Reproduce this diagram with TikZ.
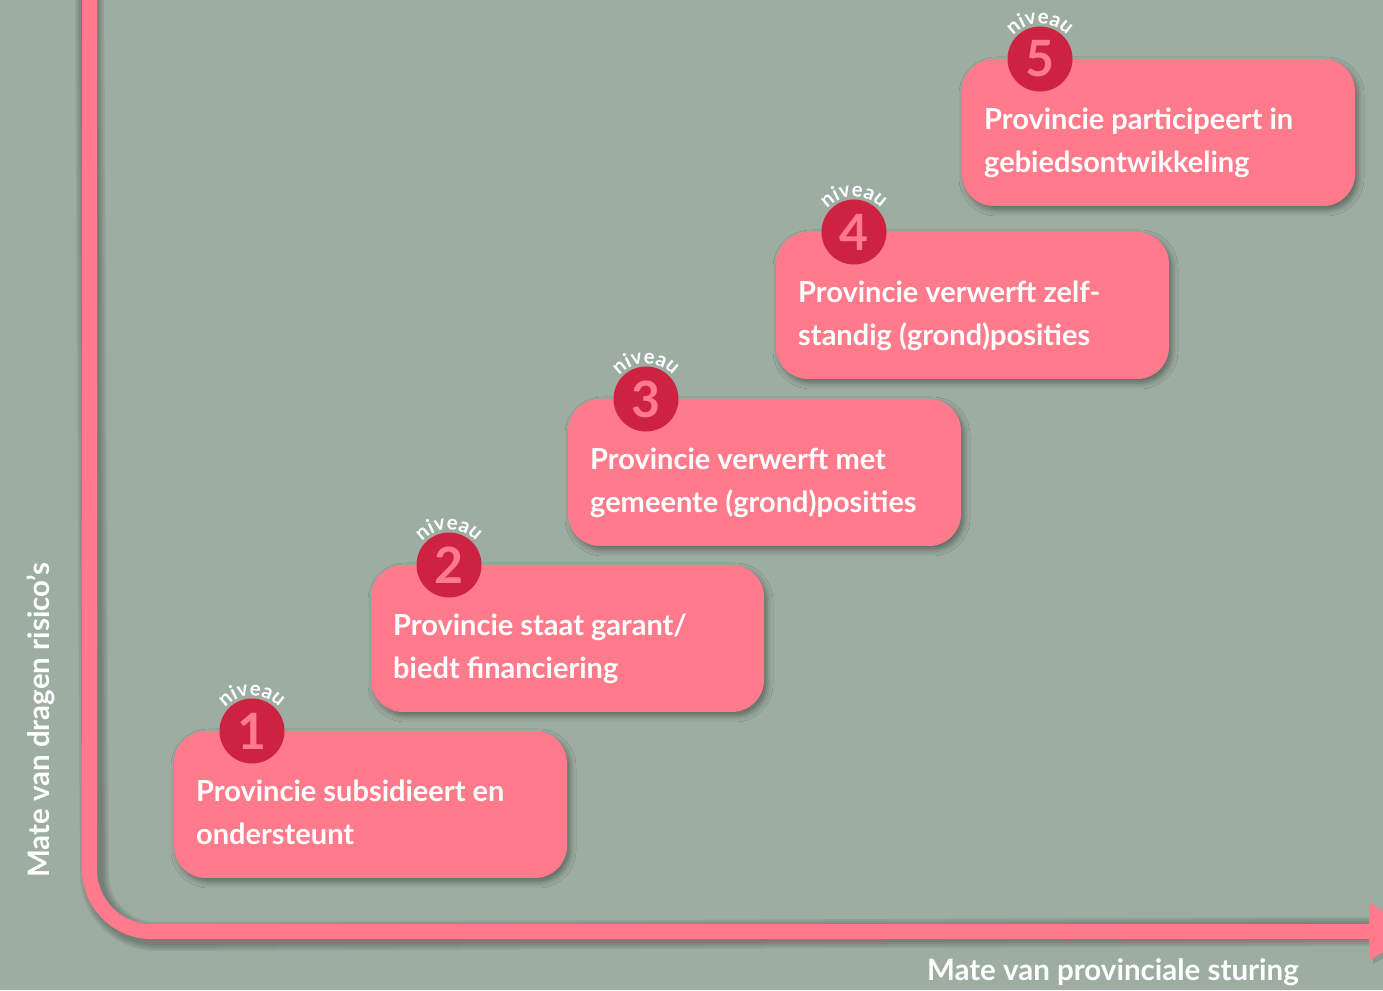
\documentclass[tikz,border=0pt]{standalone}
\usepackage{fontspec}
\setmainfont{Lato}
\usetikzlibrary{shadows.blur,decorations.text}
\definecolor{bgc}{RGB}{157,173,162}
\definecolor{pinkc}{RGB}{255,123,139}
\definecolor{darkr}{RGB}{206,35,64}
\newcommand\nivfont{\fontsize{20.5}{20}\selectfont\bfseries}
\newcommand\levelbox[5]{%
  \node[lvlbox] (b#1) at ({#2+196.5},{#3-73.5}) {};
  \node[lvltext] (t#1a) at ({#2+22},{#3-71}) {#4};
  \node[lvltext] (t#1b) at ({#2+22},{#3-114}) {#5};
  \node[badge] (c#1) at ({#2+78},#3) {#1};
  \path[decorate,decoration={text along path,text align=center,text color=white,
     text={|\nivfont|niveau}}] (c#1.center) ++(150:35.5) arc[start angle=150,end angle=30,radius=35.5];
}
\begin{document}
\begin{tikzpicture}[x=1pt,y=1pt,
  lvlbox/.style={fill=pinkc,rounded corners=32pt,minimum width=393pt,minimum height=147pt,inner sep=0pt,
     blur shadow={shadow xshift=3pt,shadow yshift=-4pt,shadow blur radius=6pt,shadow opacity=40}},
  lvltext/.style={anchor=base west,inner sep=0pt,text=white,font=\fontsize{29}{29}\selectfont\bfseries},
  badge/.style={circle,fill=darkr,minimum size=65pt,inner sep=0pt,text=pinkc,font=\fontsize{50}{50}\selectfont\bfseries},
  axislbl/.style={inner sep=0pt,text=white,font=\fontsize{29.5}{29.5}\selectfont\bfseries},
  axisline/.style={line width=15pt,pinkc}
]
\fill[bgc] (0,0) rectangle (1383,990);
\useasboundingbox (0,0) rectangle (1383,990);
\clip (0,0) rectangle (1383,990);
% axis shadow
\coordinate (atop) at (89.5,995);
\coordinate (aend) at (1370,58.5);
\foreach \w in {29,25,21,17} {
  \draw[black,opacity=0.07,line width=\w pt,shift={(5,-5)}] (atop) -- (89.5,120.5) arc[start angle=180,end angle=270,radius=62] -- (aend);
}
\draw[axisline] (atop) -- (89.5,120.5) arc[start angle=180,end angle=270,radius=62] -- (aend);
\fill[black,opacity=0.12,shift={(4,-4)}] (1369,87) -- (1369,30) -- (1420,58.5) -- cycle;
\fill[pinkc] (1369,87) -- (1369,30) -- (1420,58.5) -- cycle;
% levels
\levelbox{1}{174}{259}{Provincie subsidieert en}{ondersteunt}
\levelbox{2}{371}{425}{Provincie staat garant/}{biedt financiering}
\levelbox{3}{568}{591}{Provincie verwerft met}{gemeente (grond)posities}
\levelbox{4}{776}{758}{Provincie verwerft zelf-}{standig (grond)posities}
\levelbox{5}{962}{931}{Provincie participeert in}{gebiedsontwikkeling}
% axis labels
\node[axislbl,rotate=90,anchor=west] (ylab) at (41,112) {Mate van dragen risico’s};
\node[axislbl,anchor=east] (xlab) at (1299,18) {Mate van provinciale sturing};
\end{tikzpicture}
\end{document}
